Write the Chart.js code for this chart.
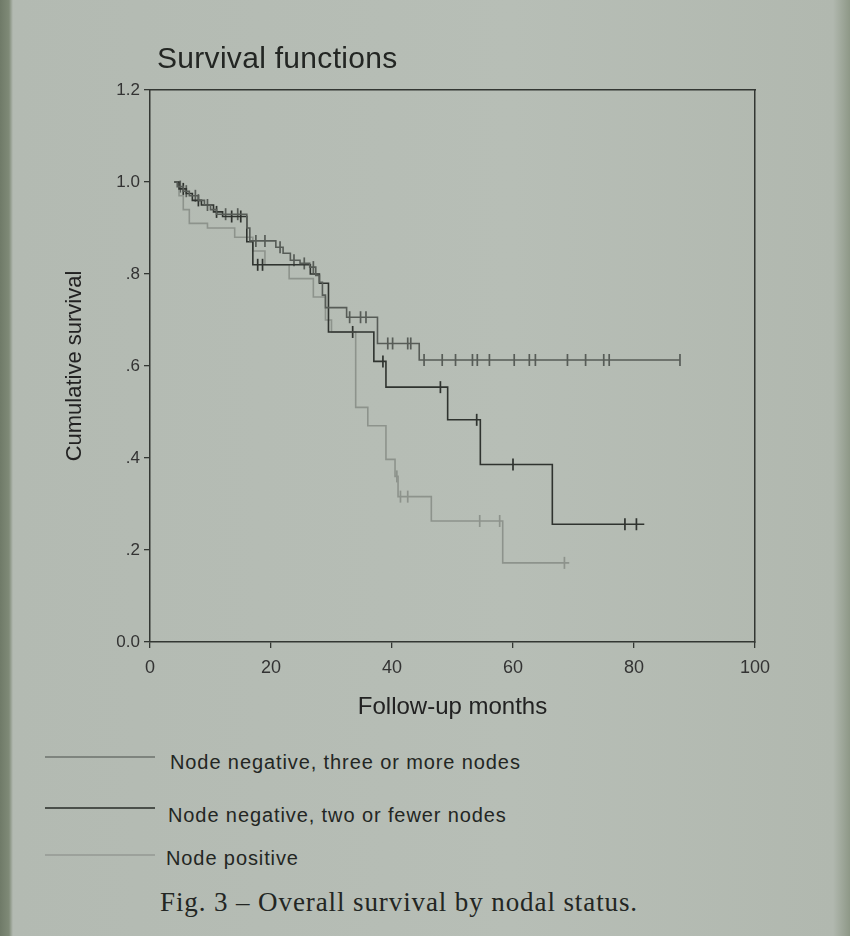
<!DOCTYPE html>
<html>
<head>
<meta charset="utf-8">
<script src="https://cdn.jsdelivr.net/npm/chart.js@4.4.1/dist/chart.umd.min.js"></script>
<style>
  html, body { margin: 0; padding: 0; }
  body { width: 850px; height: 936px; position: relative; overflow: hidden;
         background: linear-gradient(90deg, #6f7a68 0px, #7f8a77 9px, #b3bab2 13px, #b7beb6 60%, #b1b8af 98%, #8e9887 100%); }
  #wrap { position: absolute; left: 0; top: 0; width: 850px; height: 730px; }
  .t { position: absolute; font-family: "Liberation Sans", Arial, sans-serif; color: #232623; white-space: nowrap; }
  .ln { position: absolute; height: 2px; }
</style>
</head>
<body>
<div id="wrap"><canvas id="c" width="850" height="730"></canvas></div>
<div class="t" id="title" style="left:157px; top:41px; font-size:30px; letter-spacing:0.3px;">Survival functions</div>

<div class="ln" style="left:45px; top:756px; width:110px; background:#7e847e;"></div>
<div class="t" style="left:170px; top:751px; font-size:20px; letter-spacing:0.9px;">Node negative, three or more nodes</div>
<div class="ln" style="left:45px; top:807px; width:110px; background:#4a4f4a;"></div>
<div class="t" style="left:168px; top:804px; font-size:20px; letter-spacing:0.9px;">Node negative, two or fewer nodes</div>
<div class="ln" style="left:45px; top:854px; width:110px; background:#9ca19b;"></div>
<div class="t" style="left:166px; top:847px; font-size:20px; letter-spacing:0.9px;">Node positive</div>
<div class="t" style="left:160px; top:887px; font-size:27px; letter-spacing:0.9px; font-family:'Liberation Serif','Times New Roman',serif;">Fig. 3 – Overall survival by nodal status.</div>

<script>
// ---- Data ----
const seriesNames = ["Node negative, three or more nodes", "Node negative, two or fewer nodes", "Node positive"];

// Node negative, three or more nodes
const aTimes = [4, 4.5, 5.5, 6.5, 8, 9, 10, 11, 16, 16.5, 20.8, 22, 23.2, 24.8, 26.4, 27.4, 28, 28.5, 29, 32.5, 37.6, 44.5, 87.6];
const aSurv  = [1.0, 0.99, 0.98, 0.97, 0.96, 0.95, 0.94, 0.93, 0.90, 0.872, 0.858, 0.845, 0.83, 0.823, 0.815, 0.797, 0.782, 0.754, 0.727, 0.706, 0.649, 0.613, 0.613];
const aCensored = [5, 6, 7.5, 9.5, 12.5, 14.5, 17.5, 19, 21.5, 23.8, 25.5, 27, 33, 34.8, 35.7, 39.3, 40.1, 42.6, 43.1, 45.3, 48.3, 50.5, 53.3, 54.1, 56.1, 60.2, 62.7, 63.7, 69, 72, 75, 75.9, 87.6];

// Node negative, two or fewer nodes
const bTimes = [4, 4.8, 6, 7, 8.5, 10.5, 12, 16, 17, 26.5, 28, 29.5, 37, 39, 49.2, 54.6, 66.5, 81.7];
const bSurv  = [1.0, 0.985, 0.975, 0.96, 0.95, 0.935, 0.925, 0.87, 0.82, 0.80, 0.78, 0.674, 0.61, 0.554, 0.483, 0.386, 0.256, 0.256];
const bCensored = [5.5, 8, 11, 13.5, 15, 17.8, 18.6, 33.5, 38.5, 48, 54, 60, 78.5, 80.4];

// Node positive
const cTimes = [4, 4.8, 5.5, 6.5, 9.5, 14, 17, 19, 23, 27, 29, 30, 34, 36, 39, 40.5, 41, 46.5, 58.3, 69.3];
const cSurv  = [1.0, 0.97, 0.94, 0.91, 0.90, 0.88, 0.85, 0.82, 0.79, 0.75, 0.70, 0.674, 0.51, 0.47, 0.397, 0.36, 0.316, 0.263, 0.172, 0.172];
const cCensored = [40.8, 41.4, 42.6, 54.5, 57.8, 68.5];

const xTicks = [0, 20, 40, 60, 80, 100];
const yTickLabels = ["0.0", ".2", ".4", ".6", ".8", "1.0", "1.2"];

// ---- helpers ----
function toPoints(times, surv) { return times.map((t, i) => ({ x: t, y: surv[i] })); }
function survAt(times, surv, t) {
  let s = surv[0];
  for (let i = 0; i < times.length; i++) { if (times[i] <= t) s = surv[i]; }
  return s;
}
function censorPoints(ct, times, surv) { return ct.map(t => ({ x: t, y: survAt(times, surv, t) })); }

const colA = '#575c57', colB = '#2f332f', colC = '#8d938c';
const lineDs = (label, pts, col) => ({
  label, data: pts, borderColor: col, borderWidth: 1.6, stepped: true,
  pointRadius: 0, fill: false, tension: 0
});
const censorDs = (label, pts, col) => ({
  type: 'scatter', label, data: pts, showLine: false, pointStyle: 'line',
  rotation: 90, pointRadius: 6, pointBorderWidth: 1.7, borderColor: col, backgroundColor: col, pointHoverRadius: 6
});

const tickFont = { family: "'Liberation Sans', Arial, sans-serif", size: 17 };
const axisCol = '#333733';

new Chart(document.getElementById('c'), {
  type: 'line',
  data: {
    datasets: [
      lineDs(seriesNames[0], toPoints(aTimes, aSurv), colA),
      lineDs(seriesNames[1], toPoints(bTimes, bSurv), colB),
      lineDs(seriesNames[2], toPoints(cTimes, cSurv), colC),
      censorDs(seriesNames[0] + ' censored', censorPoints(aCensored, aTimes, aSurv), colA),
      censorDs(seriesNames[1] + ' censored', censorPoints(bCensored, bTimes, bSurv), colB),
      censorDs(seriesNames[2] + ' censored', censorPoints(cCensored, cTimes, cSurv), colC)
    ]
  },
  options: {
    responsive: false, animation: false, events: [],
    layout: { padding: { top: 90, right: 95, bottom: 0, left: 0 } },
    plugins: { legend: { display: false }, tooltip: { enabled: false }, title: { display: false } },
    scales: {
      x: {
        type: 'linear', position: 'bottom', min: 0, max: 100,
        afterBuildTicks: s => { s.ticks = xTicks.map(v => ({ value: v })); },
        afterFit: s => { s.height = 88; },
        ticks: { font: { ...tickFont, size: 18 }, color: '#333', padding: 9, maxRotation: 0 },
        grid: { drawOnChartArea: false, drawTicks: true, tickLength: 6, color: axisCol, lineWidth: 1.3 },
        border: { display: true, color: axisCol, width: 1.5 },
        title: { display: true, text: 'Follow-up months', color: '#222', padding: { top: 0, bottom: 8 },
                 font: { family: "'Liberation Sans', Arial, sans-serif", size: 24 } }
      },
      y: {
        type: 'linear', position: 'left', min: 0, max: 1.2,
        afterBuildTicks: s => { s.ticks = yTickLabels.map((l, i) => ({ value: i * 0.2 })); },
        afterFit: s => { s.width = 150; },
        ticks: { font: tickFont, color: '#333', padding: 4,
                 callback: (v, i) => yTickLabels[i] },
        grid: { drawOnChartArea: false, drawTicks: true, tickLength: 6, color: axisCol, lineWidth: 1.3 },
        border: { display: true, color: axisCol, width: 1.5 },
        title: { display: true, text: 'Cumulative survival', color: '#222', padding: { top: 62, bottom: 0 },
                 font: { family: "'Liberation Sans', Arial, sans-serif", size: 22 } }
      },
      x2: {
        type: 'linear', position: 'top', min: 0, max: 100,
        afterFit: s => { s.height = 0; },
        ticks: { display: false }, grid: { display: false, drawTicks: false },
        border: { display: true, color: axisCol, width: 1.5 }
      },
      y2: {
        type: 'linear', position: 'right', min: 0, max: 1.2,
        afterFit: s => { s.width = 0; },
        ticks: { display: false }, grid: { display: false, drawTicks: false },
        border: { display: true, color: axisCol, width: 1.5 }
      }
    }
  }
});
</script>
</body>
</html>
